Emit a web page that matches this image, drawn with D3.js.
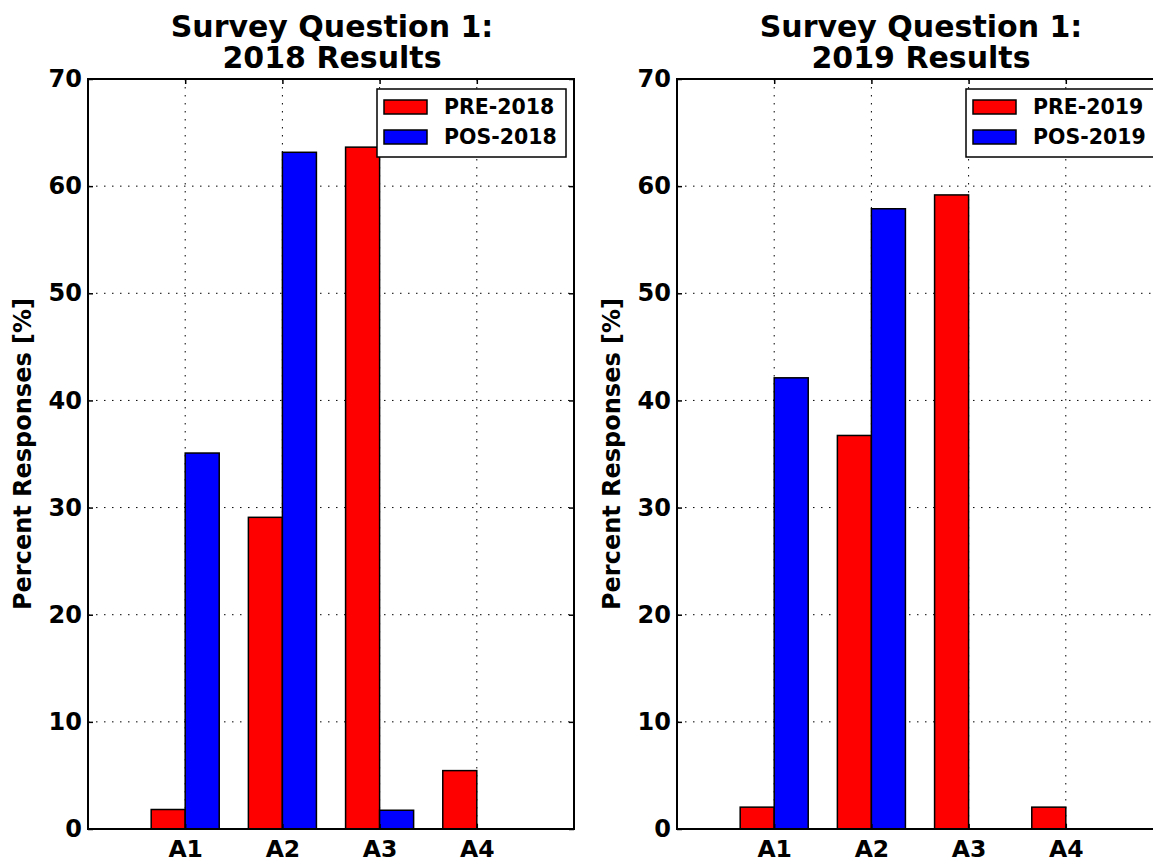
<!DOCTYPE html>
<html><head><meta charset="utf-8">
<script src="https://cdn.jsdelivr.net/npm/d3@7"></script>
<style>body{margin:0;background:#fff}svg{display:block}text{font-family:"DejaVu Sans",sans-serif;font-weight:bold;fill:#000}</style>
</head><body><svg id="c" width="1153" height="860"></svg>
<script>
const categories = ["A1","A2","A3","A4"];
const yTicks = [0,10,20,30,40,50,60,70];
const pre2018 = [1.82, 29.09, 63.64, 5.45];
const pos2018 = [35.09, 63.16, 1.75, 0];
const pre2019 = [2.04, 36.73, 59.18, 2.04];
const pos2019 = [42.11, 57.89, 0, 0];
const panels = [
  {title1:"Survey Question 1:", title2:"2018 Results", pre:pre2018, pos:pos2018, preName:"PRE-2018", posName:"POS-2018", x0:88, x1:574},
  {title1:"Survey Question 1:", title2:"2019 Results", pre:pre2019, pos:pos2019, preName:"PRE-2019", posName:"POS-2019", x0:677, x1:1163}
];
const svg = d3.select("#c");
const plotTop = 79, plotBottom = 829, barW = 0.35;
panels.forEach(p => {
  const g = svg.append("g");
  const x = d3.scaleLinear().domain([0,5]).range([p.x0,p.x1]);
  const y = d3.scaleLinear().domain([0,70]).range([plotBottom,plotTop]);
  const xt = categories.map((c,i)=>i+1);
  // grid
  g.selectAll(".gy").data(yTicks.slice(1,-1)).join("line")
    .attr("x1",p.x0).attr("x2",p.x1).attr("y1",d=>y(d)).attr("y2",d=>y(d))
    .attr("stroke","#000").attr("stroke-width",1).attr("stroke-dasharray","1.5,6.5");
  g.selectAll(".gx").data(xt).join("line")
    .attr("x1",d=>x(d)).attr("x2",d=>x(d)).attr("y1",plotTop).attr("y2",plotBottom)
    .attr("stroke","#000").attr("stroke-width",1).attr("stroke-dasharray","1.5,6.5");
  // bars
  g.selectAll(".pre").data(p.pre).join("rect")
    .attr("x",(d,i)=>x(i+1-barW)).attr("width",(d,i)=>x(i+1)-x(i+1-barW))
    .attr("y",d=>y(d)).attr("height",d=>y(0)-y(d))
    .attr("fill","#ff0000").attr("stroke","#000").attr("stroke-width",1.5);
  g.selectAll(".pos").data(p.pos).join("rect")
    .attr("x",(d,i)=>x(i+1)).attr("width",(d,i)=>x(i+1+barW)-x(i+1))
    .attr("y",d=>y(d)).attr("height",d=>y(0)-y(d))
    .attr("fill","#0000ff").attr("stroke","#000").attr("stroke-width",1.5);
  // axes
  const yAxisL = d3.axisLeft(y).tickValues(yTicks).tickSize(-5).tickPadding(6).tickFormat(d3.format("d"));
  const yAxisR = d3.axisRight(y).tickValues(yTicks).tickSize(-5).tickFormat("");
  const xAxisB = d3.axisBottom(x).tickValues(xt).tickSize(-5).tickPadding(11).tickFormat((d,i)=>categories[i]);
  const xAxisT = d3.axisTop(x).tickValues(xt).tickSize(-5).tickFormat("");
  const style = (fs) => sel => { sel.select(".domain").remove(); sel.selectAll("line").attr("stroke","#000").attr("stroke-width",1.5);
    sel.selectAll("text").style("font-size",fs).style("font-family","DejaVu Sans").style("font-weight","bold").attr("fill","#000"); };
  g.append("g").attr("transform",`translate(${p.x0},0)`).call(yAxisL).call(style("24px"));
  g.append("g").attr("transform",`translate(${p.x1},0)`).call(yAxisR).call(style("24px"));
  g.append("g").attr("transform",`translate(0,${plotBottom})`).call(xAxisB).call(style("23.5px"));
  g.append("g").attr("transform",`translate(0,${plotTop})`).call(xAxisT).call(style("23px"));
  g.append("rect").attr("x",p.x0).attr("y",plotTop).attr("width",p.x1-p.x0).attr("height",plotBottom-plotTop)
    .attr("fill","none").attr("stroke","#000").attr("stroke-width",2);
  // title
  const cx = (p.x0+p.x1)/2 + 1;
  g.append("text").attr("x",cx).attr("y",37).attr("text-anchor","middle").style("font-size","30px").text(p.title1);
  g.append("text").attr("x",cx).attr("y",68).attr("text-anchor","middle").style("font-size","30px").text(p.title2);
  // y label
  g.append("text").attr("transform",`translate(${p.x0-57},${(plotTop+plotBottom)/2}) rotate(-90)`)
    .attr("text-anchor","middle").style("font-size","24px").text("Percent Responses [%]");
  // legend
  const lx = p.x1-197, ly = 89;
  const lg = g.append("g");
  lg.append("rect").attr("x",lx).attr("y",ly).attr("width",189).attr("height",68)
    .attr("fill","#fff").attr("stroke","#000").attr("stroke-width",1.5);
  [[p.preName,"#ff0000"],[p.posName,"#0000ff"]].forEach((e,k)=>{
    lg.append("rect").attr("x",lx+7).attr("y",ly+11+k*30).attr("width",43).attr("height",14)
      .attr("fill",e[1]).attr("stroke","#000").attr("stroke-width",1.5);
    lg.append("text").attr("x",lx+67).attr("y",ly+25+k*30).style("font-size","20.5px").text(e[0]);
  });
});
</script></body></html>
